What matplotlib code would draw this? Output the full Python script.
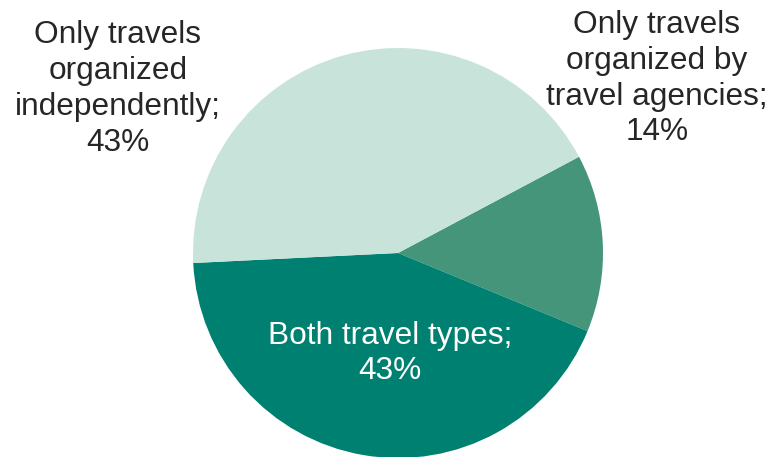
import matplotlib.pyplot as plt

# Share of respondents by how their travels were organized
labels = ["Only travels\norganized by\ntravel agencies", "Both travel types", "Only travels\norganized\nindependently"]
shares = [14, 43, 43]
colors = ["#45957a", "#008070", "#c8e4da"]
text_colors = ["#262626", "white", "#262626"]

plt.rcParams["font.family"] = ["Liberation Sans", "DejaVu Sans"]

fig = plt.figure(figsize=(7.74, 4.57), dpi=100)
W, H = 774, 457
cx, cy, r = 398, 253, 205
ax = fig.add_axes([(cx - r) / W, (H - cy - r) / H, 2 * r / W, 2 * r / H])

wedges, _ = ax.pie(shares, colors=colors, startangle=28, counterclock=False,
                   radius=1, wedgeprops=dict(linewidth=0))
ax.set_xlim(-1, 1)
ax.set_ylim(-1, 1)

# label placement in axis units
label_pos = [(1.263, 0.85), (-0.039, -0.49), (-1.366, 0.8)]
for lab, v, (x, y), tc in zip(labels, shares, label_pos, text_colors):
    ax.text(x, y, "{};\n{}%".format(lab, v), ha="center", va="center",
            multialignment="center", fontsize=22.8, color=tc, linespacing=1.25,
            clip_on=False)

fig.savefig("out.png", dpi=100)
